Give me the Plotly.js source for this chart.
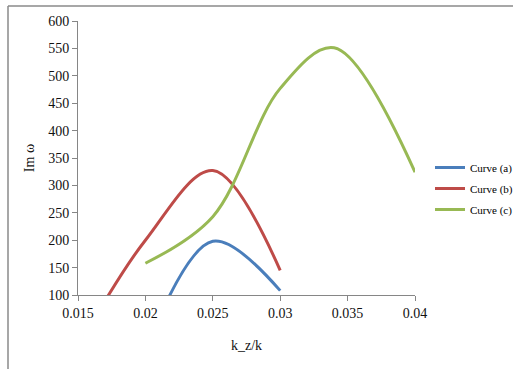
<!DOCTYPE html>
<html><head><meta charset="utf-8">
<script src="https://cdn.plot.ly/plotly-3.0.1.min.js"></script>
<style>html,body{margin:0;padding:0;background:#fff}</style>
</head><body>
<div id="chart" style="width:513px;height:369px"></div>
<script>
const xA = [0.02, 0.025, 0.03];
const yA = [0, 198, 108];
const xB = [0.015, 0.02, 0.025, 0.03];
const yB = [5, 200, 327, 145];
const xC = [0.02, 0.025, 0.03, 0.034, 0.04];
const yC = [158, 243, 477, 551, 324];
const names = ["Curve (a)", "Curve (b)", "Curve (c)"];
const colors = ["#4A7EBB", "#BE4B48", "#98B954"];
const xTicks = [0.015, 0.02, 0.025, 0.03, 0.035, 0.04];
const xTickText = ["0.015", "0.02", "0.025", "0.03", "0.035", "0.04"];
const yTicks = [100, 150, 200, 250, 300, 350, 400, 450, 500, 550, 600];

const serif = "'Liberation Serif', 'Times New Roman', serif";
const series = [[xA, yA], [xB, yB], [xC, yC]];
const data = series.map((s, i) => ({
  x: s[0], y: s[1], name: names[i], type: "scatter", mode: "lines", legendgroup: "g" + i,
  line: {color: colors[i], width: 3, shape: "spline", smoothing: 1}
}));

const L = 78, R = 415, T = 21, B = 295;
const px = v => (v - L) / (R - L);
const py = v => (B - v) / (B - T);

const layout = {
  width: 513, height: 369,
  margin: {l: L, r: 513 - R, t: T, b: 369 - B, autoexpand: false},
  paper_bgcolor: "#ffffff", plot_bgcolor: "#ffffff",
  showlegend: true,
  font: {family: serif},
  legend: {x: px(430), y: py(153), xanchor: "left", yanchor: "top",
           font: {family: serif, size: 11, color: "#000"}, bgcolor: "rgba(0,0,0,0)",
           tracegroupgap: 2},
  xaxis: {range: [0.015, 0.04], tickvals: xTicks, ticktext: xTickText,
          showgrid: false, zeroline: false, showline: true, linecolor: "#868686", linewidth: 1,
          ticks: "outside", ticklen: 5, tickcolor: "#868686",
          tickfont: {family: serif, size: 14, color: "#111"},
          title: {text: "k_z/k", font: {family: serif, size: 14, color: "#111"}, standoff: 20}},
  yaxis: {range: [100, 600], tickvals: yTicks,
          showgrid: false, zeroline: false, showline: true, linecolor: "#868686", linewidth: 1,
          ticks: "outside", ticklen: 5, tickcolor: "#868686",
          tickfont: {family: serif, size: 14, color: "#111"},
          title: {text: "Im ω", font: {family: serif, size: 14, color: "#111"}, standoff: 10}},
  shapes: [
    {type: "line", xref: "paper", yref: "paper", x0: px(8), x1: px(520), y0: py(6), y1: py(6),
     line: {color: "#8a8a8a", width: 1.5}},
    {type: "line", xref: "paper", yref: "paper", x0: px(8), x1: px(8), y0: py(6), y1: py(380),
     line: {color: "#8a8a8a", width: 1.5}}
  ]
};
Plotly.newPlot("chart", data, layout, {displayModeBar: false, staticPlot: true});
</script>
</body></html>
